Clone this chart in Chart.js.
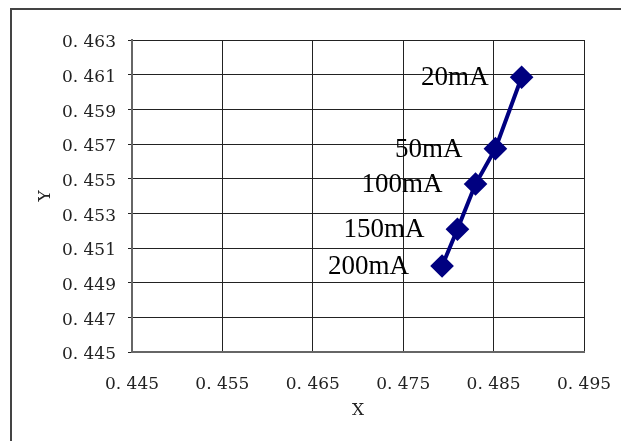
<!DOCTYPE html>
<html>
<head>
<meta charset="utf-8">
<script src="https://cdn.jsdelivr.net/npm/chart.js@4/dist/chart.umd.min.js"></script>
<style>
  html, body { margin: 0; padding: 0; background: #fff; }
  #wrap { width: 621px; height: 441px; position: relative; }
</style>
</head>
<body>
<div id="wrap"><canvas id="chart" width="621" height="441"></canvas></div>
<script>
const currents = ["20mA", "50mA", "100mA", "150mA", "200mA"];
const xValues = [0.4881, 0.4852, 0.4830, 0.4810, 0.4793];
const yValues = [0.46085, 0.45673, 0.45469, 0.45208, 0.44996];

const xTicks = [0.445, 0.455, 0.465, 0.475, 0.485, 0.495];
const yTicks = [0.445, 0.447, 0.449, 0.451, 0.453, 0.455, 0.457, 0.459, 0.461, 0.463];

const fmt = v => "0. " + Math.round(v * 1000);

// page frame (top + left rule, the rest is cut off)
const frame = {
  id: "frame",
  beforeDraw(chart) {
    const c = chart.ctx;
    c.save();
    c.strokeStyle = "#444";
    c.lineWidth = 2;
    c.beginPath();
    c.moveTo(621, 9);
    c.lineTo(11, 9);
    c.lineTo(11, 441);
    c.stroke();
    c.restore();
  }
};

// text labels to the left of each point
const pointLabels = {
  id: "pointLabels",
  afterDatasetsDraw(chart) {
    const c = chart.ctx;
    const meta = chart.getDatasetMeta(0);
    c.save();
    c.font = "27px 'Liberation Serif', serif";
    c.fillStyle = "#000";
    c.textAlign = "right";
    c.textBaseline = "middle";
    meta.data.forEach((pt, i) => {
      c.fillText(currents[i], pt.x - 33, pt.y + 1);
    });
    c.restore();
  }
};

const tickFont = { family: "'DejaVu Serif', serif", size: 17 };

new Chart(document.getElementById("chart"), {
  type: "scatter",
  data: {
    datasets: [{
      data: xValues.map((x, i) => ({ x: x, y: yValues[i] })),
      showLine: true,
      borderColor: "#000080",
      backgroundColor: "#000080",
      borderWidth: 4,
      pointStyle: "rectRot",
      pointRadius: 9,
      pointHoverRadius: 9
    }]
  },
  options: {
    responsive: false,
    animation: false,
    events: [],
    layout: { padding: { left: 0, top: 40, right: 37, bottom: 0 } },
    plugins: { legend: { display: false }, tooltip: { enabled: false } },
    scales: {
      x: {
        type: "linear",
        min: 0.445,
        max: 0.495,
        afterBuildTicks: s => { s.ticks = xTicks.map(v => ({ value: v })); },
        afterFit: s => { s.height = 89; s.paddingLeft = 0; s.paddingRight = 0; },
        grid: { color: "#222", lineWidth: 1, tickLength: 0 },
        border: { color: "#666", width: 2 },
        ticks: { font: tickFont, color: "#222", padding: 22, maxRotation: 0, callback: v => fmt(v) },
        title: { display: true, text: "X", font: tickFont, color: "#222", padding: { top: 0, bottom: 20 } }
      },
      y: {
        type: "linear",
        min: 0.445,
        max: 0.463,
        afterBuildTicks: s => { s.ticks = yTicks.map(v => ({ value: v })); },
        afterFit: s => { s.width = 132; s.paddingTop = 0; s.paddingBottom = 0; },
        grid: { color: "#222", lineWidth: 1, tickLength: 4 },
        border: { color: "#666", width: 2 },
        ticks: { font: tickFont, color: "#222", padding: 12, labelOffset: 3, callback: v => fmt(v) },
        title: { display: true, text: "Y", font: tickFont, color: "#222", padding: { top: 35, bottom: 0 } }
      }
    }
  },
  plugins: [frame, pointLabels]
});
</script>
</body>
</html>
